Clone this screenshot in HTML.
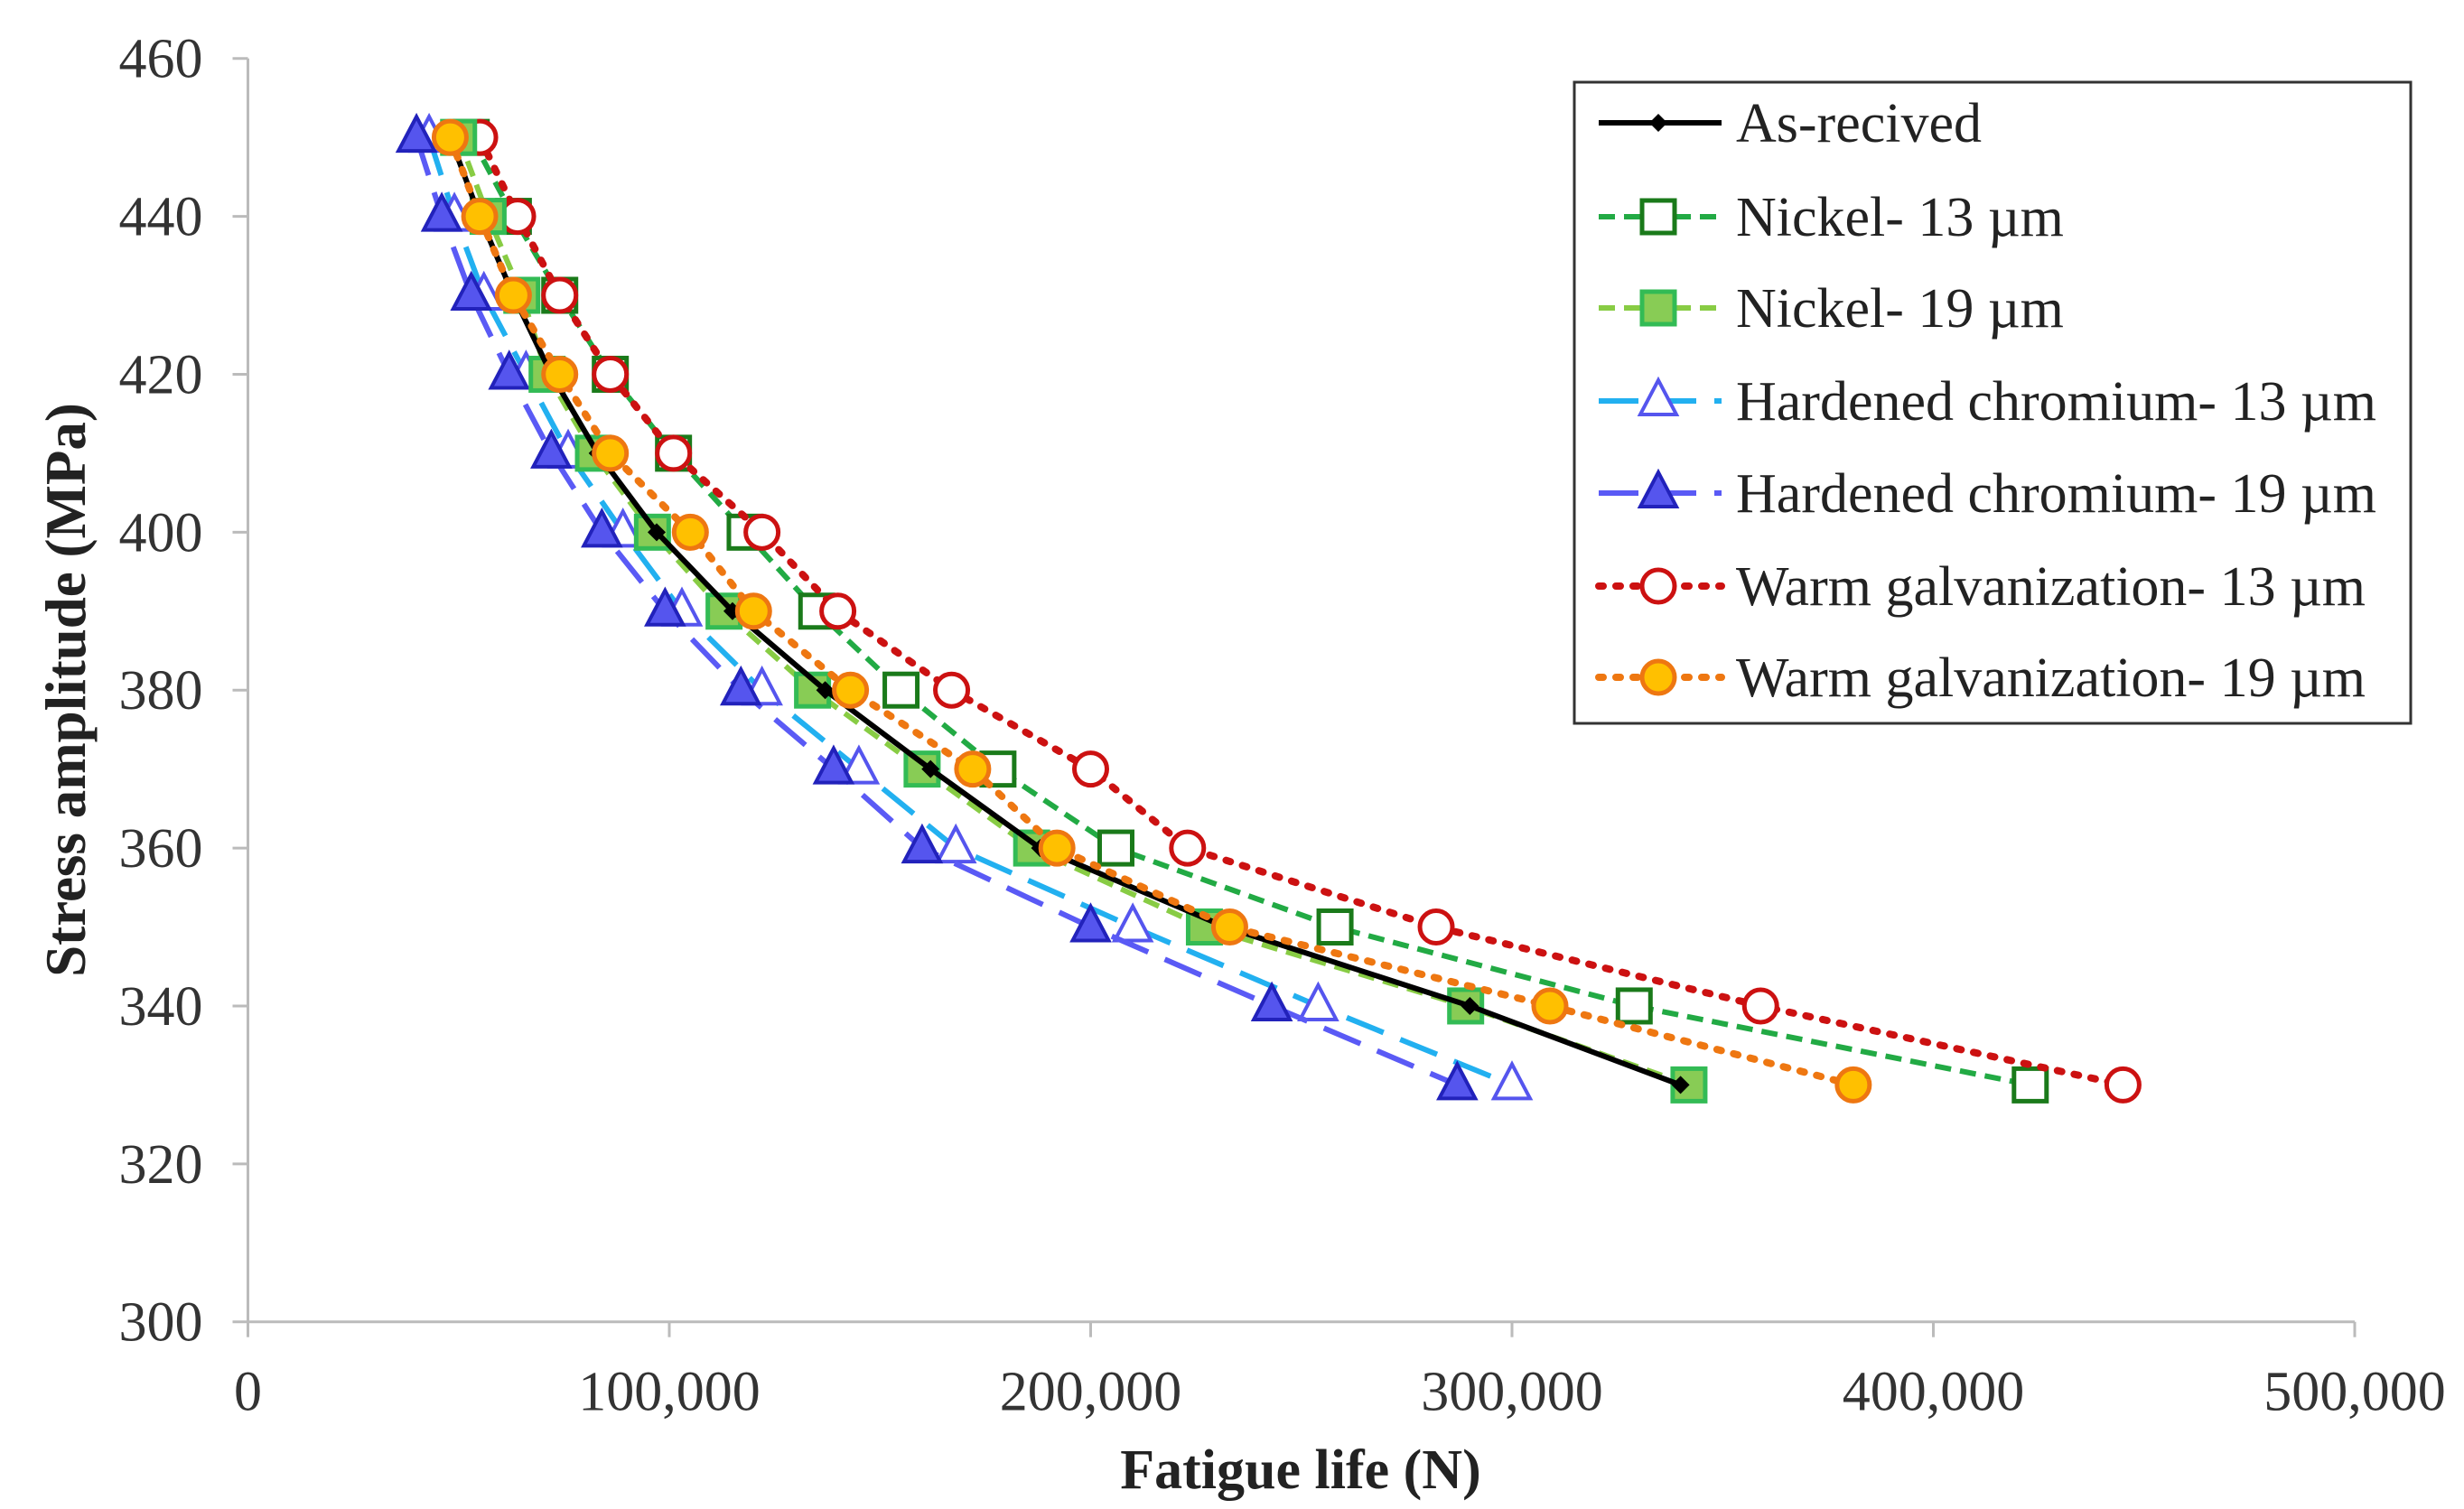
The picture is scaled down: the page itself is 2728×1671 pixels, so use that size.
<!DOCTYPE html>
<html><head><meta charset="utf-8"><style>
html,body{margin:0;padding:0;background:#fff;}
svg{display:block;font-family:"Liberation Serif",serif;}
</style></head><body>
<svg id="chart" width="2728" height="1671" viewBox="0 0 2728 1671" xmlns="http://www.w3.org/2000/svg"></svg>
<script>
const stressLevels=[450,440,430,420,410,400,390,380,370,360,350,340,330];
const asReceived=[48,55,63,72,83,97,115,137,162,188,232,290,340];
const nickel13=[53,63,74,86,101,118,135,155,178,206,258,329,423];
const nickel19=[50,57,65,71,82,96,113,134,160,186,227,289,342];
const hardCr13=[43,49,56,66,76,89,103,122,145,168,210,254,300];
const hardCr19=[40,46,53,62,72,84,99,117,139,160,200,243,287];
const warm13=[55,64,74,86,101,122,140,167,200,223,282,359,445];
const warm19=[48,55,63,74,86,105,120,143,172,192,233,309,381];
const xTicks=[0,100000,200000,300000,400000,500000];
const xTickLabels=["0","100,000","200,000","300,000","400,000","500,000"];
const yTicks=[300,320,340,360,380,400,420,440,460];

const X0=274.5,X1=2607,Y0=1463.7,Y1=64.7;
const sx=v=>X0+(v-0)/(500000)*(X1-X0);
const sy=v=>Y0-(v-300)/(160)*(Y0-Y1);
const NS="http://www.w3.org/2000/svg";
const svg=document.getElementById('chart');
function mk(tag,attrs,parent){const e=document.createElementNS(NS,tag);for(const k in attrs)e.setAttribute(k,attrs[k]);(parent||svg).appendChild(e);return e;}

const axes=mk('g',{});


const ya=mk('line',{x1:X0,y1:Y1,x2:X0,y2:Y0,stroke:'#bbb','stroke-width':3},axes);


const xa=mk('line',{x1:X0,y1:Y0,x2:X1,y2:Y0,stroke:'#bbb','stroke-width':3},axes);


yTicks.forEach(t=>{
  mk('line',{x1:X0-17,y1:sy(t),x2:X0,y2:sy(t),stroke:'#bbb','stroke-width':3},axes);
  const tx=mk('text',{x:X0-50,y:sy(t)+21,'text-anchor':'end','font-size':62,fill:'#333'},axes);
  tx.textContent=t;
  
  
});
xTicks.forEach((t,i)=>{
  mk('line',{x1:sx(t),y1:Y0,x2:sx(t),y2:Y0+17,stroke:'#bbb','stroke-width':3},axes);
  const tx=mk('text',{x:sx(t),y:Y0+98,'text-anchor':'middle','font-size':62,fill:'#333'},axes);
  tx.textContent=xTickLabels[i];
  
  
});
const xt=mk('text',{x:1440,y:1648,'text-anchor':'middle','font-size':62,'font-weight':'bold',fill:'#222'});
xt.textContent='Fatigue life (N)';


const yt=mk('text',{x:0,y:0,'text-anchor':'middle','font-size':63,'font-weight':'bold',fill:'#222',transform:'translate(94,764) rotate(-90)'});
yt.textContent='Stress amplitude (MPa)';



const series=[
 {name:'Hardened chromium- 13 µm',key:'hardened-chromium-13',data:hardCr13,color:'#22b0f0',dash:'44,20',w:6,m:'tri',fill:'#fff',mstroke:'#5555ee'},
 {name:'Hardened chromium- 19 µm',key:'hardened-chromium-19',data:hardCr19,color:'#5a5af5',dash:'44,20',w:6,m:'tri',fill:'#5555ee',mstroke:'#2222bb'},
 {name:'Nickel- 13 µm',key:'nickel-13',data:nickel13,color:'#22aa44',dash:'18,10',w:6,m:'sq',fill:'#fff',mstroke:'#1a7a1a'},
 {name:'Warm galvanization- 13 µm',key:'warm-galvanization-13',data:warm13,color:'#cc1111',dash:'5,14',w:8,m:'circ',fill:'#fff',mstroke:'#cc1111',cap:'round'},
 {name:'Nickel- 19 µm',key:'nickel-19',data:nickel19,color:'#88cc44',dash:'18,10',w:6,m:'sq',fill:'#88cc55',mstroke:'#33bb55'},
 {name:'As-recived',key:'as-received',data:asReceived,color:'#000',dash:'',w:6,m:'dia',fill:'#000',mstroke:'#000'},
 {name:'Warm galvanization- 19 µm',key:'warm-galvanization-19',data:warm19,color:'#ee7711',dash:'5,14',w:8,m:'circ',fill:'#ffc000',mstroke:'#ee7711',cap:'round'},
];
function marker(s,x,y,g){
  let e;
  if(s.m==='tri') e=mk('polygon',{points:`${x},${y-23} ${x+20},${y+15} ${x-20},${y+15}`,fill:s.fill,stroke:s.mstroke,'stroke-width':4},g);
  else if(s.m==='sq') e=mk('rect',{x:x-18,y:y-18,width:36,height:36,fill:s.fill,stroke:s.mstroke,'stroke-width':5},g);
  else if(s.m==='circ'){e=mk('circle',{cx:x,cy:y,r:18,fill:s.fill,stroke:s.mstroke,'stroke-width':5},g);}
  else e=mk('polygon',{points:`${x},${y-10} ${x+10},${y} ${x},${y+10} ${x-10},${y}`,fill:s.fill},g);
  return e;
}
const plot=mk('g',{});


series.forEach(s=>{
  const g=mk('g',{},plot);
  
  
  const pts=s.data.map((v,i)=>sx(v*1000)+','+sy(stressLevels[i])).join(' ');
  const pl=mk('polyline',{points:pts,fill:'none',stroke:s.color,'stroke-width':s.w,'stroke-dasharray':s.dash,'stroke-linecap':s.cap||'butt'},g);
  
  
  s.data.forEach((v,i)=>{
    const m=marker(s,sx(v*1000),sy(stressLevels[i]),g);
    
    
  });
});

const lg=mk('g',{});


mk('rect',{x:1743,y:91,width:926,height:710,fill:'#fff',stroke:'#333','stroke-width':3},lg);
const order=['as-received','nickel-13','nickel-19','hardened-chromium-13','hardened-chromium-19','warm-galvanization-13','warm-galvanization-19'];
const ly=[136,240,341,444,546,649,750];
order.forEach((k,i)=>{
  const s=series.find(q=>q.key===k);
  const g=mk('g',{},lg);
  
  
  mk('line',{x1:1770,y1:ly[i],x2:1906,y2:ly[i],stroke:s.color,'stroke-width':s.w,'stroke-dasharray':s.dash,'stroke-linecap':s.cap||'butt'},g);
  marker(s,1836,ly[i],g);
  const t=mk('text',{x:1922,y:ly[i]+21,'font-size':62,fill:'#222'},g);
  t.textContent=s.name;
});
</script>
</body></html>
